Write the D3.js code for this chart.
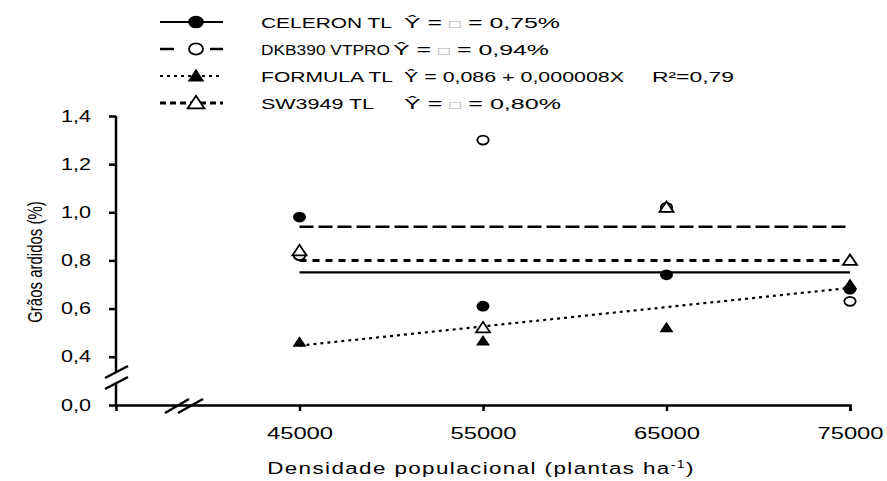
<!DOCTYPE html>
<html>

<head>
    <meta charset="utf-8">
    <script src="https://d3js.org/d3.v7.min.js"></script>
    <style>
        body {
            margin: 0;
            background: #fff;
        }

        svg text {
            font-family: Arial, "Liberation Sans", sans-serif;
            fill: #000;
        }

        .axis path,
        .axis line {
            stroke: #000;
            stroke-width: 2.5px;
            fill: none;
        }
    </style>
</head>

<body>
    <script>
        // dados
        let densidades = [45000, 55000, 65000, 75000];
        let celeron = [0.98, 0.61, 0.74, 0.68];
        let dkb390 = [0.82, 1.30, 1.02, 0.63];
        let formula = [0.46, 0.465, 0.52, 0.70];
        let sw3949 = [0.84, 0.52, 1.02, 0.80];

        // medias (linhas horizontais) e reta ajustada do FORMULA
        let mediaCeleron = 0.75;
        let mediaDkb = 0.94;
        let mediaSw = 0.80;
        let retaFormula = [0.446, 0.686];

        let yTicks = [0, 0.4, 0.6, 0.8, 1.0, 1.2, 1.4];
        let xTicks = [45000, 55000, 65000, 75000];

        let legendas = ["CELERON TL", "DKB390 VTPRO", "FORMULA TL", "SW3949 TL"];

        let w = 887,
            h = 481;
        let esticar = 1.4; // o texto original aparece alargado na horizontal

        let svg = d3.select("body").append("svg")
            .attr("width", w)
            .attr("height", h);

        let x = d3.scaleLinear()
            .domain([35000, 75000])
            .range([116, 850]);

        // escala com quebra: 0 a 0,4 comprimido
        let y = d3.scaleLinear()
            .domain([0, 0.4, 1.4])
            .range([405, 356.7, 116]);

        let fmt = d => d3.format(".1f")(d).replace(".", ",");

        // eixo y
        let gy = svg.append("g")
            .attr("class", "axis")
            .attr("transform", "translate(116,0)")
            .call(d3.axisLeft(y).tickValues(yTicks).tickSize(7).tickSizeOuter(7).tickFormat(fmt));
        gy.selectAll("text")
            .style("font-size", "16px")
            .attr("x", 0)
            .attr("transform", "translate(-25,0) scale(1.35,1)");
        gy.select(".domain").remove();
        gy.append("line").attr("x1", 0).attr("x2", 0).attr("y1", y(1.4)).attr("y2", y(0));

        // eixo x
        let gx = svg.append("g")
            .attr("class", "axis")
            .attr("transform", "translate(0,405)")
            .call(d3.axisBottom(x).tickValues(xTicks).tickSize(6).tickSizeOuter(6).tickFormat(d3.format("d")));
        gx.selectAll("text")
            .style("font-size", "17px")
            .attr("y", 0)
            .attr("dy", 0)
            .attr("transform", "translate(0,34) scale(" + esticar + ",1)");

        // quebras
        svg.append("rect")
            .attr("x", 110).attr("y", 372).attr("width", 12).attr("height", 12)
            .attr("fill", "#fff");
        let brk = svg.append("g").attr("stroke", "#000").attr("stroke-width", 2.5);
        brk.append("line").attr("x1", 105).attr("y1", 378).attr("x2", 128).attr("y2", 366);
        brk.append("line").attr("x1", 105).attr("y1", 389).attr("x2", 128).attr("y2", 377);
        brk.append("line").attr("x1", 165).attr("y1", 413).attr("x2", 189).attr("y2", 399);
        brk.append("line").attr("x1", 178).attr("y1", 413).attr("x2", 203).attr("y2", 399);

        // titulos dos eixos
        svg.append("text")
            .attr("transform", "translate(42,262) rotate(-90) scale(1," + esticar + ")")
            .attr("text-anchor", "middle")
            .style("font-size", "15px")
            .text("Grãos ardidos (%)");

        let xt = svg.append("text")
            .attr("transform", "translate(481,474) scale(" + esticar + ",1)")
            .attr("text-anchor", "middle")
            .style("font-size", "16px")
            .style("letter-spacing", "1px");
        xt.append("tspan").text("Densidade populacional (plantas ha");
        xt.append("tspan").attr("dy", -6).style("font-size", "10px").text("-1");
        xt.append("tspan").attr("dy", 6).text(")");

        // linhas
        let xMin = densidades[0],
            xMax = densidades[densidades.length - 1];

        let estilos = {
            celeron: { dash: null, width: 2.2 },
            dkb: { dash: "14,5", width: 2.5 },
            formula: { dash: "3,4", width: 2.2 },
            sw: { dash: "7,6", width: 3 }
        };

        function hline(v, st) {
            svg.append("line")
                .attr("x1", x(xMin)).attr("x2", x(xMax))
                .attr("y1", y(v)).attr("y2", y(v))
                .attr("stroke", "#000")
                .attr("stroke-width", st.width)
                .attr("stroke-dasharray", st.dash);
        }
        hline(mediaDkb, estilos.dkb);
        hline(mediaSw, estilos.sw);
        hline(mediaCeleron, estilos.celeron);

        svg.append("line")
            .attr("x1", x(xMin)).attr("x2", x(xMax))
            .attr("y1", y(retaFormula[0])).attr("y2", y(retaFormula[1]))
            .attr("stroke", "#000")
            .attr("stroke-width", estilos.formula.width)
            .attr("stroke-dasharray", estilos.formula.dash);

        // marcadores (achatados como no original)
        function marker(g, tipo, k) {
            let rx = 6.5 * k,
                ry = 5.3 * k;
            let tri = "M0," + (-6 * k) + "L" + (7 * k) + "," + (4.5 * k) + "L" + (-7 * k) + "," + (4.5 * k) + "Z";
            if (tipo == "celeron") {
                g.append("ellipse").attr("rx", rx).attr("ry", ry).attr("fill", "#000");
            } else if (tipo == "dkb") {
                g.append("ellipse").attr("rx", rx - 0.8).attr("ry", ry - 0.8).attr("fill", "#fff")
                    .attr("stroke", "#000").attr("stroke-width", 1.8);
            } else if (tipo == "formula") {
                g.append("path").attr("d", tri).attr("fill", "#000");
            } else {
                g.append("path").attr("d", tri).attr("fill", "#fff")
                    .attr("stroke", "#000").attr("stroke-width", 1.8);
            }
        }

        let series = [
            { tipo: "celeron", vals: celeron },
            { tipo: "dkb", vals: dkb390 },
            { tipo: "formula", vals: formula },
            { tipo: "sw", vals: sw3949 }
        ];

        series.forEach(s => {
            svg.append("g").selectAll("g")
                .data(s.vals)
                .join("g")
                .attr("transform", (d, i) => "translate(" + x(densidades[i]) + "," + y(d) + ")")
                .each(function() {
                    marker(d3.select(this), s.tipo, 1);
                });
        });

        // legenda
        let eqs = [
            ["Ŷ = ", "□", " = 0,75%"],
            ["Ŷ = ", "□", " = 0,94%"],
            ["Ŷ = 0,086 + 0,000008X"],
            ["Ŷ = ", "□", " = 0,80%"]
        ];
        let eqX = [404, 393, 404, 404];
        let eqLen = [156, 156, 220, 157];
        let nomeLen = [131, 129, 132, 113];
        let tipos = ["celeron", "dkb", "formula", "sw"];
        let stl = [estilos.celeron, estilos.dkb, estilos.formula, estilos.sw];

        tipos.forEach((t, i) => {
            let ly = 22 + i * 27;
            let ln = svg.append("g").attr("stroke", "#000").attr("stroke-width", stl[i].width);
            if (t == "dkb") {
                ln.append("line").attr("x1", 160).attr("x2", 174).attr("y1", ly).attr("y2", ly);
                ln.append("line").attr("x1", 210).attr("x2", 223).attr("y1", ly).attr("y2", ly);
            } else {
                ln.append("line")
                    .attr("x1", 160).attr("x2", 223)
                    .attr("y1", ly).attr("y2", ly)
                    .attr("stroke-dasharray", t == "sw" ? "6,4" : stl[i].dash);
            }
            let g = svg.append("g").attr("transform", "translate(196," + ly + ")");
            marker(g, t, 1.2);

            svg.append("text")
                .attr("x", 261).attr("y", ly + 5.5)
                .attr("textLength", nomeLen[i])
                .attr("lengthAdjust", "spacingAndGlyphs")
                .style("font-size", "15px")
                .text(legendas[i]);

            let eq = svg.append("text")
                .attr("x", eqX[i]).attr("y", ly + 5.5)
                .attr("textLength", eqLen[i])
                .attr("lengthAdjust", "spacingAndGlyphs")
                .style("font-size", "15px");
            eqs[i].forEach(p => {
                let sp = eq.append("tspan").text(p);
                if (p == "□") sp.style("fill", "#aaa").style("font-size", "12px");
            });

            if (t == "formula") {
                let r2 = svg.append("text")
                    .attr("x", 652).attr("y", ly + 5.5)
                    .attr("textLength", 82)
                    .attr("lengthAdjust", "spacingAndGlyphs")
                    .style("font-size", "15px");
                r2.append("tspan").text("R");
                r2.append("tspan").text("²=0,79");
            }
        });
    </script>
</body>

</html>
